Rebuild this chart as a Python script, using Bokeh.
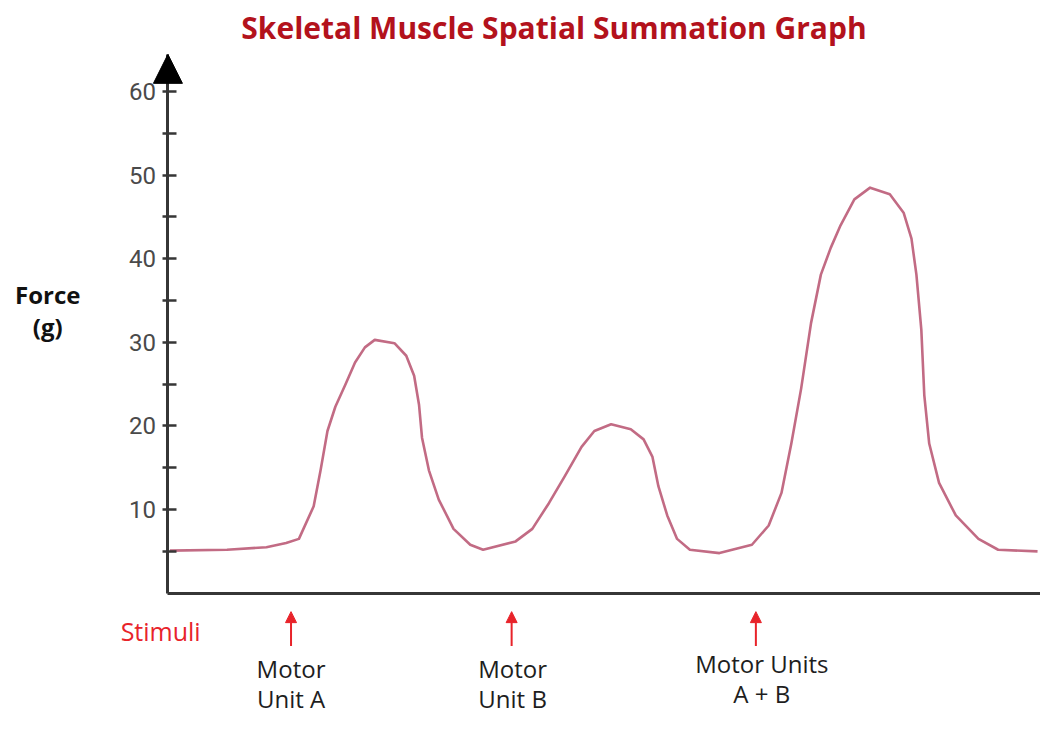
from bokeh.plotting import figure
from bokeh.models import Range1d, FixedTicker, Label, Arrow, NormalHead
from bokeh.embed import file_html
from bokeh.resources import INLINE

# time (arbitrary units) and force (g)
time = [2, 60, 100, 120, 133, 148, 155, 162, 170, 180, 190, 200, 210, 230, 242, 250,
        255, 258, 265, 275, 290, 307, 320, 353, 370, 387, 403, 420, 433, 450, 470,
        483, 492, 498, 507, 517, 530, 560, 593, 610, 623, 633, 643, 653, 663, 673,
        683, 697, 713, 733, 747, 755, 760, 765, 768, 773, 783, 800, 823, 843, 883]
force = [5.1, 5.2, 5.5, 6.0, 6.5, 10.4, 14.7, 19.4, 22.3, 24.9, 27.6, 29.4, 30.3,
         29.9, 28.4, 26.0, 22.5, 18.6, 14.7, 11.2, 7.7, 5.8, 5.2, 6.2, 7.7, 10.8,
         14.0, 17.5, 19.4, 20.2, 19.6, 18.4, 16.3, 12.8, 9.3, 6.5, 5.2, 4.8, 5.8,
         8.1, 12.0, 17.9, 24.5, 32.3, 38.1, 41.3, 44.0, 47.1, 48.5, 47.7, 45.5, 42.4,
         38.1, 31.5, 23.7, 17.9, 13.2, 9.3, 6.5, 5.2, 5.0]

stim_times = [125, 349, 597]
stim_labels = ["Motor\nUnit A", "Motor\nUnit B", "Motor Units\nA + B"]
y_ticks = [5, 10, 15, 20, 25, 30, 35, 40, 45, 50, 55, 60]
y_tick_labels = {t: (str(t) if t % 10 == 0 else "") for t in y_ticks}

title_text = "Skeletal Muscle Spatial Summation Graph"
ylabel_lines = ["Force", "(g)"]
stimuli_text = "Stimuli"

# ---- layout (frame fills the whole canvas; axes are pinned at 0) ----
X0, X1 = -170, 886
Y0, Y1 = -14.74, 70.88
Y_TIP = 64.44

p = figure(width=1040, height=716, output_backend="svg", toolbar_location=None,
           x_range=Range1d(X0, X1), y_range=Range1d(Y0, Y1),
           min_border=0)
p.outline_line_color = None
p.grid.visible = False
p.background_fill_color = "white"
p.border_fill_color = "white"

AX = "#363636"
ya = p.yaxis[0]
ya.fixed_location = 0
ya.bounds = (0, Y_TIP)
ya.ticker = FixedTicker(ticks=y_ticks)
ya.major_label_overrides = y_tick_labels
ya.axis_line_width = 3
ya.axis_line_color = AX
ya.major_tick_line_color = AX
ya.major_tick_line_width = 2.5
ya.major_tick_in = 9
ya.major_tick_out = 5
ya.minor_tick_line_color = None
ya.major_label_standoff = 7
ya.major_label_text_font = "Roboto"
ya.major_label_text_font_size = "24px"
ya.major_label_text_color = "#4a4a4a"

xa = p.xaxis[0]
xa.fixed_location = 0
xa.bounds = (0, X1)
xa.ticker = FixedTicker(ticks=[])
xa.axis_line_width = 3
xa.axis_line_color = AX
xa.major_tick_line_color = None
xa.minor_tick_line_color = None
xa.major_label_text_font_size = "0px"

p.line(time, force, line_color="#c26b84", line_width=2.6, line_join="round")

# arrow head at top of y axis
p.add_layout(Arrow(x_start=0, y_start=Y_TIP - 4, x_end=0, y_end=Y_TIP,
                   line_width=0, line_alpha=0,
                   end=NormalHead(size=29, fill_color="black", line_color="black")))

RED = "#e8232a"
label_x = [125, 350, 603]
for t, lx, lab in zip(stim_times, label_x, stim_labels):
    p.add_layout(Arrow(x_start=t, y_start=-6.3, x_end=t, y_end=-2.2,
                       line_color=RED, line_width=2,
                       end=NormalHead(size=11, fill_color=RED, line_color=RED)))
    lines = lab.split("\n")
    y_first = -8.4 if len(lines[0]) > 6 else -9.0
    for i, ln in enumerate(lines):
        p.add_layout(Label(x=lx, y=y_first - 3.6 * i,
                           text=ln, text_align="center", text_baseline="middle",
                           text_font="Open Sans", text_font_size="24px",
                           text_color="#1e1e1e"))

p.add_layout(Label(x=-48, y=-4.56, text=stimuli_text, text_align="left",
                   text_baseline="middle", text_font="Open Sans",
                   text_font_size="25px", text_color=RED))

p.add_layout(Label(x=392, y=67.7, text=title_text, text_align="center",
                   text_baseline="middle", text_font="Open Sans",
                   text_font_style="bold", text_font_size="30px",
                   text_color="#b3121c"))

for i, ln in enumerate(ylabel_lines):
    p.add_layout(Label(x=-122, y=35.7 - 3.8 * i, text=ln, text_align="center",
                       text_baseline="middle", text_font="Open Sans",
                       text_font_style="bold", text_font_size="24px",
                       text_color="#111111"))

open("out.html", "w").write(file_html(p, INLINE))
